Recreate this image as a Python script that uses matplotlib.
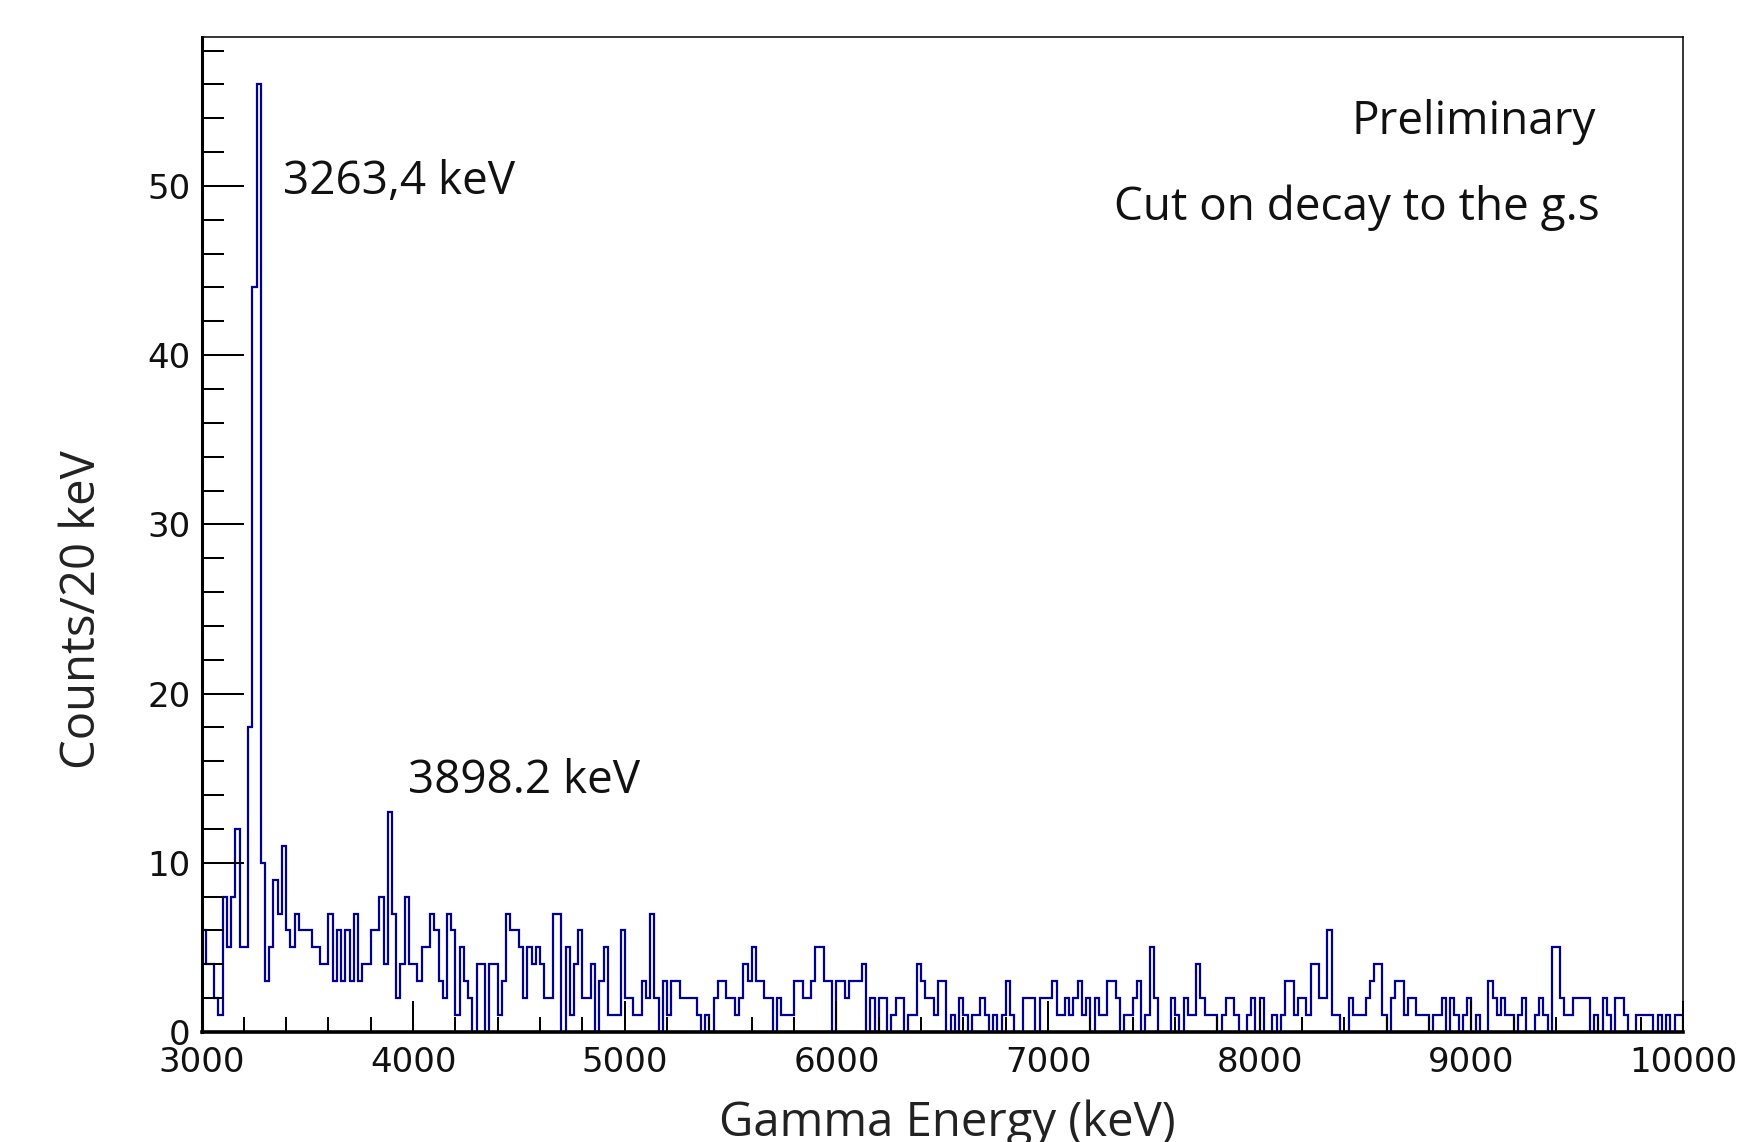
import numpy as np
import matplotlib
matplotlib.use("Agg")
import matplotlib.pyplot as plt
from matplotlib.ticker import MultipleLocator

# ---- data: counts per 20 keV bin, 3000-10000 keV ----
bin_width = 20
e_min, e_max = 3000, 10000
counts = [
    6, 4, 4, 2, 1, 8, 5, 8, 12, 5,
    5, 18, 44, 56, 10, 3, 5, 9, 7, 11,
    6, 5, 7, 6, 6, 6, 5, 5, 4, 4,
    7, 3, 6, 3, 6, 3, 7, 3, 4, 4,
    6, 6, 8, 4, 13, 7, 2, 4, 8, 4,
    4, 3, 5, 5, 7, 6,
    # k56-k111
    3, 2, 7, 6, 1, 5, 3, 2, 0, 4,
    4, 0, 4, 4, 1, 3, 7, 6, 6, 5,
    2, 5, 4, 5, 4, 2, 2, 7, 7, 0,
    5, 1, 4, 6, 2, 2, 4, 0, 3, 5,
    1, 1, 1, 6, 2, 2, 1, 1, 3, 2,
    7, 2, 0, 3, 1, 3,
    # k112-k168
    3, 2, 2, 2, 2, 1, 0, 1, 0, 2,
    3, 3, 2, 2, 1, 2, 4, 3, 5, 3,
    3, 2, 2, 0, 2, 1, 1, 1, 3, 3,
    2, 2, 3, 5, 5, 3, 3, 0, 3, 3,
    2, 3, 3, 3, 4, 0, 2, 0, 2, 2,
    0, 1, 2, 2, 0, 1, 1,
    # k169-k225
    4, 3, 2, 2, 1, 3, 3, 0, 1, 0,
    2, 1, 0, 1, 1, 2, 1, 0, 1, 0,
    1, 3, 1, 0, 0, 2, 2, 2, 0, 2,
    2, 2, 3, 1, 1, 2, 1, 2, 3, 1,
    2, 0, 2, 1, 1, 3, 3, 2, 0, 1,
    1, 2, 3, 0, 1, 5, 2,
    # k226-k282
    0, 0, 0, 2, 1, 0, 2, 1, 1, 4,
    2, 1, 1, 1, 0, 1, 2, 2, 1, 0,
    0, 1, 2, 0, 2, 0, 0, 1, 0, 1,
    3, 3, 1, 2, 2, 1, 4, 4, 2, 2,
    6, 1, 1, 0, 0, 2, 1, 1, 1, 2,
    3, 4, 4, 1, 0, 2, 3,
    # k283-k349
    3, 1, 2, 2, 1, 1, 1, 0, 1, 1,
    2, 0, 2, 1, 0, 1, 2, 0, 1, 0,
    0, 3, 2, 1, 2, 1, 1, 0, 1, 2,
    0, 0, 1, 2, 1, 0, 5, 5, 2, 1,
    1, 2, 2, 2, 2, 0, 1, 0, 2, 1,
    0, 2, 2, 1, 0, 0, 1, 1, 1, 1,
    0, 1, 0, 1, 0, 1, 1,
]
edges = np.arange(e_min, e_max + bin_width, bin_width)
assert len(counts) == len(edges) - 1

x_label = "Gamma Energy (keV)"
y_label = "Counts/20 keV"
peak_labels = ["3263,4 keV", "3898.2 keV"]
peak_label_pos = [(3387, 49.5), (3975, 14.1)]      # left, baseline
info_texts = ["Preliminary", "Cut on decay to the g.s"]
info_pos = [(9590, 53.05), (9606, 48.0)]           # right, baseline

W, H = 1751, 1142
fig = plt.figure(figsize=(W / 100, H / 100), dpi=100)
left, right, top, bottom = 201.5, 1683, 37, 1032
ax = fig.add_axes([left / W, 1 - bottom / H, (right - left) / W, (bottom - top) / H])

ax.stairs(counts, edges, color="#000099", lw=1.6, baseline=0)
ax.set_xlim(e_min, e_max)
ax.set_ylim(0, 58.8)

ax.xaxis.set_major_locator(MultipleLocator(1000))
ax.xaxis.set_minor_locator(MultipleLocator(200))
ax.yaxis.set_major_locator(MultipleLocator(10))
ax.yaxis.set_minor_locator(MultipleLocator(2))
ax.tick_params(axis="x", which="major", direction="in", length=22.5, width=1.45, pad=10)
ax.tick_params(axis="x", which="minor", direction="in", length=11, width=1.45)
ax.tick_params(axis="y", which="major", direction="in", length=30, width=1.45, pad=8)
ax.tick_params(axis="y", which="minor", direction="in", length=15.5, width=1.45)
ax.tick_params(top=False, right=False, which="both")
for lab in ax.get_xticklabels() + ax.get_yticklabels():
    lab.set_fontfamily("DejaVu Sans")
    lab.set_fontsize(24.5)
    lab.set_color("#111111")
for sp in ax.spines.values():
    sp.set_linewidth(1.1)
ax.spines["left"].set_linewidth(2.2)
ax.spines["bottom"].set_linewidth(2.6)

txt_font = dict(family="Open Sans", fontsize=33, color="#111111")
for s, (x, y) in zip(peak_labels, peak_label_pos):
    ax.text(x, y, s, ha="left", va="baseline", **txt_font)
for s, (x, y) in zip(info_texts, info_pos):
    ax.text(x, y, s, ha="right", va="baseline", **txt_font)

fig.text(82 / W, 1 - 610 / H, y_label, rotation=90, ha="center", va="center",
         family="Open Sans", fontsize=34, color="#222222")
fig.text(947 / W, 1 - 1136 / H, x_label, ha="center", va="baseline",
         family="Open Sans", fontsize=34, color="#222222")

fig.savefig("out.png", dpi=100)
